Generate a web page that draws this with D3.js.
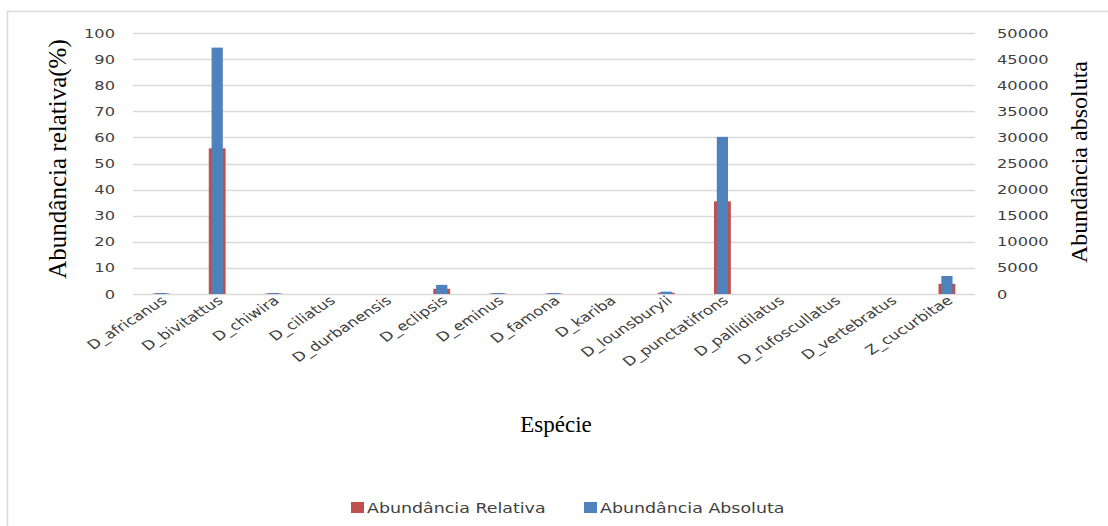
<!DOCTYPE html>
<html>
<head>
<meta charset="utf-8">
<script src="https://cdn.jsdelivr.net/npm/d3@7"></script>
<style>
  html, body { margin: 0; padding: 0; background: #fff; }
  svg { display: block; }
</style>
</head>
<body>
<svg id="chart" width="1108" height="526"></svg>
<script>
// Species on the x axis
const categories = [
  "D_africanus", "D_bivitattus", "D_chiwira", "D_ciliatus", "D_durbanensis",
  "D_eclipsis", "D_eminus", "D_famona", "D_kariba", "D_lounsburyii",
  "D_punctatifrons", "D_pallidilatus", "D_rufoscullatus", "D_vertebratus", "Z_cucurbitae"
];
// Relative abundance (%), left axis
const relativa = [0.2, 55.8, 0.2, 0, 0, 2.0, 0.2, 0.2, 0, 0.5, 35.5, 0, 0, 0, 3.9];
// Absolute abundance (counts), right axis
const absoluta = [200, 47200, 200, 0, 0, 1750, 200, 200, 0, 450, 30100, 0, 0, 0, 3450];
// Axis ticks
const leftTicks = [0, 10, 20, 30, 40, 50, 60, 70, 80, 90, 100];
const rightTicks = [0, 5000, 10000, 15000, 20000, 25000, 30000, 35000, 40000, 45000, 50000];
const seriesNames = ["Abundância Relativa", "Abundância Absoluta"];

const colRel = "#C0504D", colAbs = "#4F81BD";
const grid = "#D9D9D9", txt = "#404040";
const sans = "'DejaVu Sans', Verdana, sans-serif";
const serif = "'Liberation Serif', 'Times New Roman', serif";
const sx = 1.3; // horizontal stretch of the sans labels

const svg = d3.select("#chart");

// outer frame
svg.append("rect").attr("x", 7.5).attr("y", 11.5).attr("width", 1120).attr("height", 540)
  .attr("fill", "none").attr("stroke", grid).attr("stroke-width", 1.5);

const plot = { left: 133, right: 975, top: 33, bottom: 294 };
const x = d3.scaleBand().domain(categories).range([plot.left, plot.right]).padding(0);
const yL = d3.scaleLinear().domain([0, 100]).range([plot.bottom, plot.top]);
const yR = d3.scaleLinear().domain([0, 50000]).range([plot.bottom, plot.top]);

// gridlines
svg.append("g").selectAll("line").data(leftTicks).join("line")
  .attr("x1", plot.left).attr("x2", plot.right)
  .attr("y1", d => Math.round(yL(d)) + 0.5).attr("y2", d => Math.round(yL(d)) + 0.5)
  .attr("stroke", grid).attr("stroke-width", 1.5);

// helper for horizontally stretched text
function sText(parent, px, py, str, anchor, size, fill, rot) {
  return parent.append("text")
    .attr("transform", `translate(${px},${py}) scale(${sx},1)` + (rot ? ` rotate(${rot})` : ""))
    .attr("text-anchor", anchor)
    .attr("font-family", sans).attr("font-size", size).attr("fill", fill)
    .text(str);
}

// left axis labels
const gl = svg.append("g");
leftTicks.forEach(t => sText(gl, 115, yL(t) + 4.5, t, "end", 12.5, txt));
// right axis labels
const gr = svg.append("g");
rightTicks.forEach(t => sText(gr, 997, yR(t) + 4.5, t, "start", 12.5, txt));

// bars: relative (wider, behind) and absolute (narrower, in front)
const bw = x.bandwidth();
svg.append("g").selectAll("rect").data(categories).join("rect")
  .attr("x", (d) => x(d) + bw / 2 - bw * 0.15)
  .attr("width", bw * 0.3)
  .attr("y", (d, i) => yL(relativa[i]))
  .attr("height", (d, i) => plot.bottom - yL(relativa[i]))
  .attr("fill", colRel);
svg.append("g").selectAll("rect").data(categories).join("rect")
  .attr("x", (d) => x(d) + bw / 2 - bw * 0.1)
  .attr("width", bw * 0.2)
  .attr("y", (d, i) => yR(absoluta[i]))
  .attr("height", (d, i) => plot.bottom - yR(absoluta[i]))
  .attr("fill", colAbs);

// category labels
const gx = svg.append("g");
categories.forEach(c => sText(gx, x(c) + bw / 2 + 7, 302, c, "end", 12.8, txt, -40));

// axis titles
svg.append("text")
  .attr("transform", `translate(66,159) rotate(-90)`)
  .attr("text-anchor", "middle").attr("font-family", serif).attr("font-size", 25).attr("fill", "#000")
  .text("Abundância relativa(%)");
svg.append("text")
  .attr("transform", `translate(1087,162) rotate(-90)`)
  .attr("text-anchor", "middle").attr("font-family", serif).attr("font-size", 24).attr("fill", "#000")
  .text("Abundância absoluta");
svg.append("text")
  .attr("x", 556).attr("y", 432)
  .attr("text-anchor", "middle").attr("font-family", serif).attr("font-size", 23).attr("fill", "#000")
  .text("Espécie");

// legend
const lg = svg.append("g");
[[351, colRel, 367], [584, colAbs, 600]].forEach((p, i) => {
  lg.append("rect").attr("x", p[0]).attr("y", 502).attr("width", 13).attr("height", 11).attr("fill", p[1]);
  sText(lg, p[2], 513, seriesNames[i], "start", 13.4, txt);
});
</script>
</body>
</html>
